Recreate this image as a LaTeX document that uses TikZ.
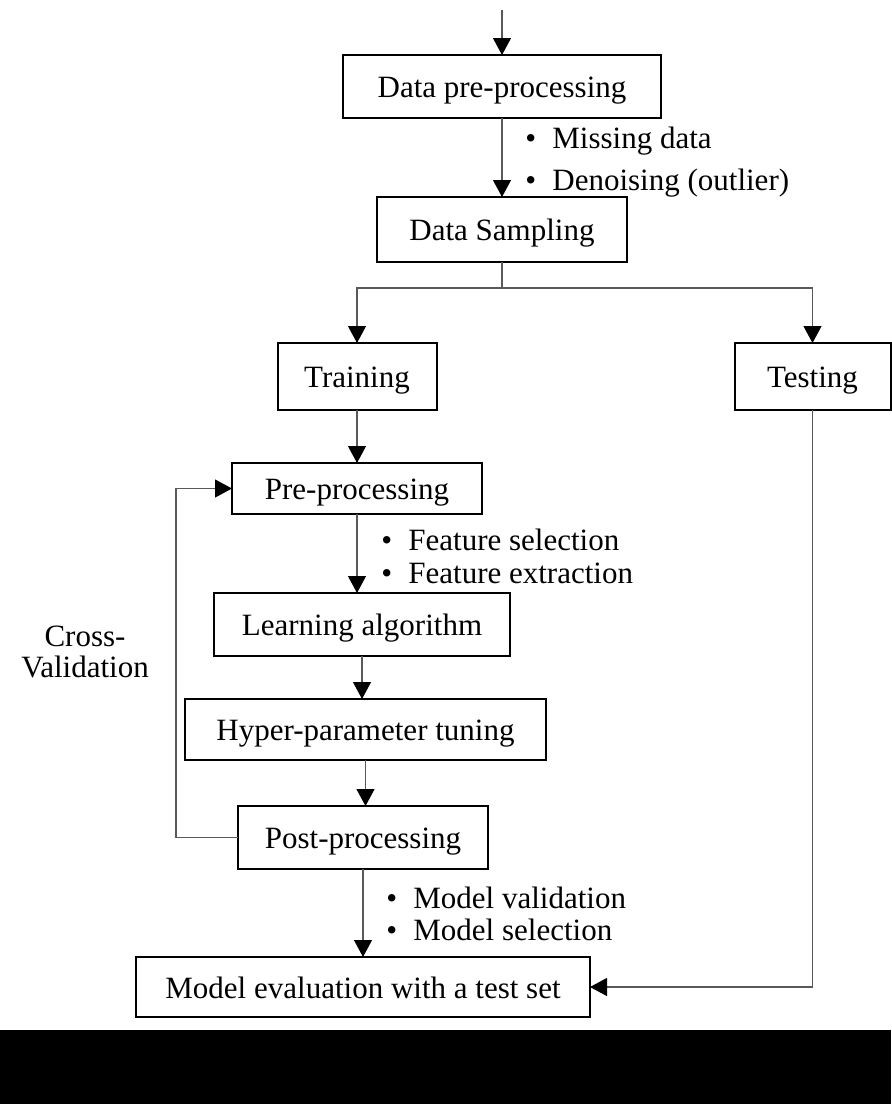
\documentclass[tikz,border=0pt]{standalone}
\usepackage{fontspec}
\setmainfont{Liberation Serif}
\usetikzlibrary{arrows.meta,positioning}
\newcommand\itm{\makebox[13.5pt][l]{\textbullet}}

\begin{document}
\begin{tikzpicture}[x=0.5pt,y=-0.5pt,>={Triangle[length=8.5pt,width=9pt,color=black]},
  every node/.style={font=\fontsize{15.5pt}{17pt}\selectfont},
  box/.style={draw,line width=1pt,inner sep=0pt,outer sep=0pt,text height=13pt,text depth=2pt},
  link/.style={->,draw=black!65,line width=0.6pt},
  lbl/.style={anchor=base west,inner sep=0pt}]
\useasboundingbox (0,0) rectangle (891,1104);
\fill (0,1030) rectangle (891,1104);
% boxes
\coordinate (top) at (502,10);
\node[box,minimum width=159pt,minimum height=31.5pt] (prep) at (502,86.5) {Data pre-processing};
\node[box,minimum width=125pt,minimum height=32.5pt,below=39.5pt of prep] (samp) {Data Sampling};
\node[box,minimum width=79.5pt,minimum height=33.5pt,below=40.5pt of samp,xshift=-72.5pt] (train) {Training};
\node[box,minimum width=78pt,minimum height=33.5pt,right=149pt of train] (test) {Testing};
\node[box,minimum width=125pt,minimum height=25.5pt,below=26.5pt of train] (pre) {Pre-processing};
\node[box,minimum width=148pt,minimum height=31.5pt,below=39.5pt of pre,xshift=2.5pt] (learn) {Learning algorithm};
\node[box,minimum width=180.5pt,minimum height=30.5pt,below=21.5pt of learn,xshift=1.75pt] (hyper) {Hyper-parameter tuning};
\node[box,minimum width=125pt,minimum height=31.5pt,below=23pt of hyper,xshift=-1.25pt] (post) {Post-processing};
\node[box,minimum width=227pt,minimum height=30pt,below=44pt of post] (eval) {Model evaluation with a test set};
% connectors
\draw[link] (top) -- (prep);
\draw[link] (prep) -- (samp);
\draw[link,-] (samp.south) -- ++(0,26) coordinate (split);
\draw[link] (split) -| (train.north);
\draw[link] (split) -| (test.north);
\draw[link] (train) -- (pre);
\draw[link] (pre.south) -- (pre.south |- learn.north);
\draw[link] (learn.south) -- (learn.south |- hyper.north);
\draw[link] (hyper.south) -- (hyper.south |- post.north);
\draw[link] (post.south) -- (post.south |- eval.north);
\draw[link] (post.west) -- ++(-62,0) |- (pre.west);
\draw[link] (test.south) |- (eval.east);
% labels
\node[lbl] (miss) at (525,148) {\itm Missing data};
\node[lbl] (noise) at (525,190) {\itm Denoising (outlier)};
\node[lbl] (fsel) at (381,550) {\itm Feature selection};
\node[lbl] (fext) at (381,583) {\itm Feature extraction};
\node[lbl] (mval) at (386,908) {\itm Model validation};
\node[lbl] (msel) at (386,940) {\itm Model selection};
\node[align=center,font=\fontsize{15.5pt}{15.5pt}\selectfont] (cv) at (85,652) {Cross-\\Validation};
\end{tikzpicture}
\end{document}
